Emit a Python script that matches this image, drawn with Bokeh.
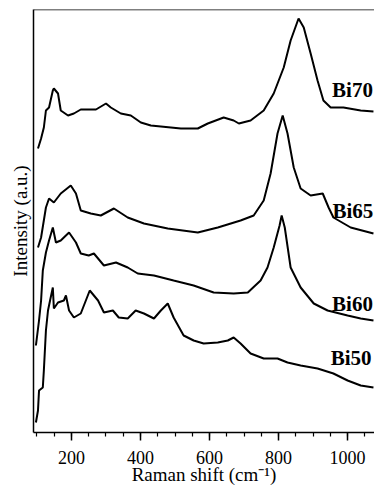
from bokeh.plotting import figure
from bokeh.models import ColumnDataSource, SingleIntervalTicker, FixedTicker, Span
from bokeh.core.properties import value
from bokeh.embed import file_html
from bokeh.resources import INLINE

# Raman spectra (Raman shift in cm^-1, intensity in arbitrary units, offset stacked)
bi70_x = [103, 112, 120, 126, 135, 146, 149, 161, 169, 190, 207, 227, 271, 300, 314, 343, 372, 401,
          430, 459, 517, 566, 595, 641, 670, 685, 719, 757, 786, 815, 835, 858, 873, 893, 913, 930,
          951, 988, 1038, 1075]
bi70_y = [284, 294, 305, 322, 325, 342, 344, 339, 322, 317, 319, 323, 323, 329, 325, 319, 317, 310,
          307, 306, 304, 304, 309, 315, 312, 309, 312, 322, 339, 365, 392, 414, 405, 379, 352, 332,
          325, 325, 322, 321]

bi65_x = [103, 112, 126, 135, 149, 169, 198, 213, 227, 256, 285, 323, 363, 410, 479, 566, 624, 690,
          728, 757, 777, 797, 812, 826, 844, 864, 893, 928, 945, 959, 1009, 1075]
bi65_y = [185, 195, 225, 234, 230, 239, 247, 239, 222, 219, 217, 224, 215, 209, 204, 200, 205, 212,
          217, 232, 259, 299, 317, 299, 265, 244, 237, 239, 225, 215, 205, 199]

bi60_x = [97, 106, 112, 117, 126, 135, 146, 155, 169, 193, 213, 227, 250, 265, 294, 329, 363, 392,
          439, 496, 554, 612, 670, 711, 748, 768, 786, 803, 809, 818, 835, 864, 902, 942, 1000, 1038,
          1075]
bi60_y = [87, 112, 132, 162, 180, 192, 205, 190, 192, 200, 190, 179, 177, 179, 167, 170, 165, 159,
          157, 152, 147, 140, 139, 140, 152, 165, 185, 207, 217, 205, 165, 145, 129, 122, 117, 114,
          112]

bi50_x = [97, 103, 106, 117, 120, 126, 132, 138, 146, 149, 161, 178, 184, 193, 207, 227, 253, 277,
          294, 320, 337, 363, 386, 410, 439, 459, 479, 496, 525, 554, 583, 624, 653, 670, 690, 719,
          757, 797, 826, 864, 913, 959, 1000, 1038, 1075]
bi50_y = [10, 22, 42, 45, 62, 102, 122, 132, 145, 124, 130, 132, 137, 122, 115, 119, 142, 132,
          120, 122, 115, 114, 122, 119, 114, 122, 129, 115, 97, 92, 89, 90, 92, 95, 89, 79,
          74, 74, 70, 67, 64, 59, 52, 47, 45]

labels = ["Bi70", "Bi65", "Bi60", "Bi50"]
label_x = [955, 956, 955, 951]
label_y = [343, 222, 129, 75]

p = figure(width=374, height=487, output_backend="svg", toolbar_location=None,
           x_range=(90, 1078), y_range=(0, 423),
           min_border_left=33, min_border_right=0, min_border_top=9, min_border_bottom=55)
p.outline_line_color = None
p.background_fill_color = "white"
p.border_fill_color = "white"
p.xgrid.visible = False
p.ygrid.visible = False

for xs, ys in [(bi70_x, bi70_y), (bi65_x, bi65_y), (bi60_x, bi60_y), (bi50_x, bi50_y)]:
    p.line(xs, ys, line_color="black", line_width=2)

src = ColumnDataSource(dict(x=label_x, y=label_y, t=labels))
p.text(x="x", y="y", text="t", source=src, text_font=value("Liberation Serif"),
       text_font_style="bold", text_font_size="21px", text_color="black",
       text_baseline="alphabetic", text_align="left")

top = Span(location=423, dimension="width", line_color="black", line_width=1.5)
p.add_layout(top)

xa = p.xaxis[0]
xa.ticker = SingleIntervalTicker(interval=200, num_minor_ticks=4)
xa.axis_line_width = 1.5
xa.major_tick_out = 8
xa.major_tick_in = 0
xa.minor_tick_out = 4
xa.minor_tick_in = 0
xa.major_tick_line_width = 1.5
xa.minor_tick_line_width = 1.2
xa.major_label_text_font = "Liberation Serif"
xa.major_label_text_font_size = "18px"
xa.major_label_text_color = "black"
xa.major_label_standoff = 10
xa.axis_label = "Raman shift (cm\u207b\u00b9)"
xa.axis_label_text_font = "Liberation Serif"
xa.axis_label_text_font_size = "19px"
xa.axis_label_text_font_style = "normal"
xa.axis_label_text_color = "black"
xa.axis_label_standoff = -3

ya = p.yaxis[0]
ya.ticker = FixedTicker(ticks=[])
ya.axis_line_width = 1.5
ya.major_tick_line_color = None
ya.minor_tick_line_color = None
ya.major_label_text_font_size = "0px"
ya.major_label_standoff = 0
ya.axis_label = "Intensity (a.u.)"
ya.axis_label_text_font = "Liberation Serif"
ya.axis_label_text_font_size = "19px"
ya.axis_label_text_font_style = "normal"
ya.axis_label_text_color = "black"
ya.axis_label_standoff = 3

open("out.html", "w").write(file_html(p, INLINE))
